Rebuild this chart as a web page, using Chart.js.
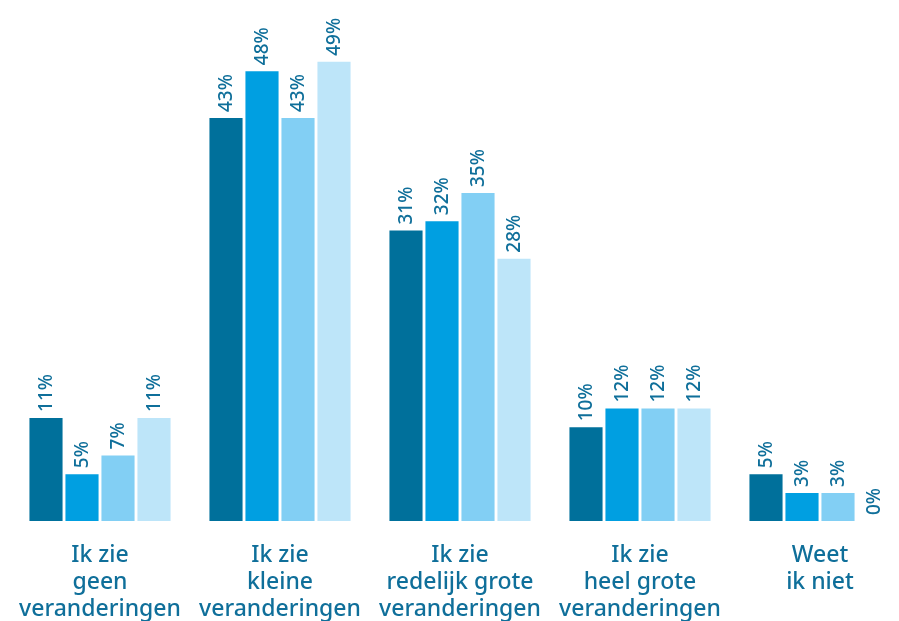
<!DOCTYPE html>
<html>
<head>
<meta charset="utf-8">
<script src="https://cdn.jsdelivr.net/npm/chart.js@4.4.0/dist/chart.umd.min.js"></script>
<style>
  html, body { margin: 0; padding: 0; background: #fff; overflow: hidden; }
  #wrap { width: 910px; height: 621px; position: relative; }
</style>
</head>
<body>
<div id="wrap"><canvas id="chart"></canvas></div>
<script>
// categorieën (meerdere regels per label)
const categories = [
    ['Ik zie', 'geen', 'veranderingen'],
    ['Ik zie', 'kleine', 'veranderingen'],
    ['Ik zie', 'redelijk grote', 'veranderingen'],
    ['Ik zie', 'heel grote', 'veranderingen'],
    ['Weet', 'ik niet']
];

const serie1 = [11, 43, 31, 10, 5];
const serie2 = [5, 48, 32, 12, 3];
const serie3 = [7, 43, 35, 12, 3];
const serie4 = [11, 49, 28, 12, 0];

const colors = ['#00709b', '#009fe1', '#82cff4', '#bde5f9'];
const textColor = '#0f6f9a';

// labels boven de staven, 90 graden gedraaid
const barLabels = {
    id: 'barLabels',
    afterDatasetsDraw(chart) {
        const ctx = chart.ctx;
        ctx.save();
        ctx.fillStyle = textColor;
        ctx.font = '500 19px "Noto Sans", sans-serif';
        ctx.textAlign = 'left';
        ctx.textBaseline = 'middle';
        chart.data.datasets.forEach((ds, i) => {
            chart.getDatasetMeta(i).data.forEach((bar, j) => {
                const { x, y } = bar.getProps(['x', 'y'], true);
                ctx.save();
                ctx.translate(x, y - 6);
                ctx.rotate(-Math.PI / 2);
                ctx.fillText(ds.data[j] + '%', 0, 1);
                ctx.restore();
            });
        });
        ctx.restore();
    }
};

new Chart(document.getElementById('chart'), {
    type: 'bar',
    data: {
        labels: categories,
        datasets: [serie1, serie2, serie3, serie4].map((d, i) => ({
            label: 'serie ' + (i + 1),
            data: d,
            backgroundColor: colors[i],
            categoryPercentage: 0.8,
            barPercentage: 0.92
        }))
    },
    options: {
        responsive: true,
        maintainAspectRatio: false,
        animation: false,
        layout: { padding: { left: 10, right: 0, top: 0, bottom: 0 } },
        plugins: {
            legend: { display: false },
            tooltip: { enabled: false }
        },
        scales: {
            y: {
                display: false,
                min: 0,
                max: 55.6
            },
            x: {
                grid: { display: false },
                border: { display: false },
                afterFit: (scale) => { scale.height = 100; },
                ticks: {
                    color: textColor,
                    font: { family: '"Noto Sans", sans-serif', size: 23, weight: '500', lineHeight: 1.18 },
                    padding: 13,
                    maxRotation: 0,
                    autoSkip: false
                }
            }
        }
    },
    plugins: [barLabels]
});
</script>
</body>
</html>
